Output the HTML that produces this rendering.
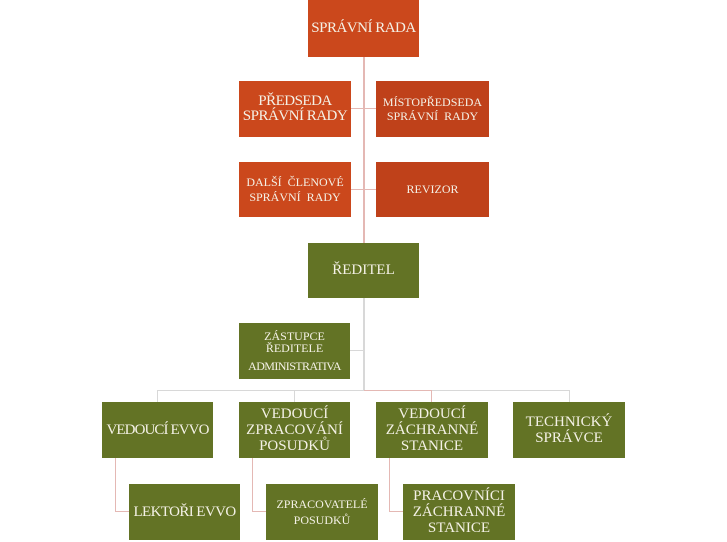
<!DOCTYPE html>
<html><head><meta charset="utf-8"><style>
body{margin:0;width:727px;height:542px;background:#fff;position:relative;overflow:hidden;font-family:"Liberation Serif",serif;}
.b{position:absolute;display:flex;align-items:center;justify-content:center;text-align:center;color:#f4f1e6;font-size:14px;line-height:15px;white-space:nowrap;}
.b>div{text-align:center}
.o{background:#CB481C}.d{background:#BF411A}.g{background:#637325}
.l{position:absolute;background:#d8d8d8}.p{position:absolute;background:#e4b8b4}
</style></head><body>
<div class="p" style="left:363px;top:57px;width:2px;height:186px"></div>
<div class="p" style="left:351px;top:108px;width:25px;height:1px"></div>
<div class="p" style="left:351px;top:189px;width:25px;height:1px"></div>
<div class="l" style="left:363px;top:298px;width:2px;height:93px"></div>
<div class="l" style="left:350px;top:350px;width:14px;height:1px"></div>
<div class="l" style="left:157px;top:390px;width:412px;height:1px"></div>
<div class="p" style="left:364px;top:390px;width:68px;height:1px"></div>
<div class="l" style="left:157px;top:390px;width:1px;height:12px"></div>
<div class="l" style="left:294px;top:390px;width:1px;height:12px"></div>
<div class="p" style="left:431px;top:390px;width:1px;height:12px"></div>
<div class="l" style="left:569px;top:390px;width:1px;height:12px"></div>
<div class="p" style="left:115px;top:458px;width:1px;height:54px"></div>
<div class="p" style="left:115px;top:511px;width:14px;height:1px"></div>
<div class="p" style="left:252px;top:458px;width:1px;height:54px"></div>
<div class="p" style="left:252px;top:511px;width:14px;height:1px"></div>
<div class="p" style="left:389px;top:458px;width:1px;height:54px"></div>
<div class="p" style="left:389px;top:511px;width:14px;height:1px"></div>

<div class="b o" style="left:308px;top:0;width:111px;height:57px;font-size:15px;letter-spacing:-0.5px"><div>SPRÁVNÍ RADA</div></div>
<div class="b o" style="left:239px;top:81px;width:112px;height:56px;font-size:15px;letter-spacing:-0.5px"><div>PŘEDSEDA<br>SPRÁVNÍ RADY</div></div>
<div class="b d" style="left:376px;top:81px;width:113px;height:56px;font-size:12px;line-height:14px"><div>MÍSTOPŘEDSEDA<br>SPRÁVNÍ&nbsp; RADY</div></div>
<div class="b o" style="left:239px;top:162px;width:112px;height:55px;font-size:12px;line-height:15px"><div>DALŠÍ&nbsp; ČLENOVÉ<br>SPRÁVNÍ&nbsp; RADY</div></div>
<div class="b d" style="left:376px;top:162px;width:113px;height:55px;font-size:12px"><div>REVIZOR</div></div>
<div class="b g" style="left:308px;top:243px;width:111px;height:55px;font-size:15px"><div>ŘEDITEL</div></div>
<div class="b g" style="left:239px;top:323px;width:111px;height:56px;font-size:12px;line-height:12px"><div>ZÁSTUPCE<br>ŘEDITELE<br><span style="display:inline-block;margin-top:6px;letter-spacing:-0.6px">ADMINISTRATIVA</span></div></div>
<div class="b g" style="left:102px;top:402px;width:111px;height:56px;font-size:15px;letter-spacing:-0.9px"><div>VEDOUCÍ EVVO</div></div>
<div class="b g" style="left:239px;top:402px;width:111px;height:56px;font-size:15px;line-height:16px"><div>VEDOUCÍ<br>ZPRACOVÁNÍ<br>POSUDKŮ</div></div>
<div class="b g" style="left:376px;top:402px;width:112px;height:56px;font-size:15px;line-height:16px"><div>VEDOUCÍ<br>ZÁCHRANNÉ<br>STANICE</div></div>
<div class="b g" style="left:513px;top:402px;width:112px;height:56px;font-size:15px;line-height:16px"><div>TECHNICKÝ<br>SPRÁVCE</div></div>
<div class="b g" style="left:129px;top:484px;width:111px;height:56px;font-size:15px;letter-spacing:-0.6px"><div>LEKTOŘI EVVO</div></div>
<div class="b g" style="left:266px;top:484px;width:112px;height:56px;font-size:12px;line-height:16px"><div>ZPRACOVATELÉ<br>POSUDKŮ</div></div>
<div class="b g" style="left:403px;top:484px;width:112px;height:56px;font-size:15px;line-height:16px"><div>PRACOVNÍCI<br>ZÁCHRANNÉ<br>STANICE</div></div>
</body></html>
